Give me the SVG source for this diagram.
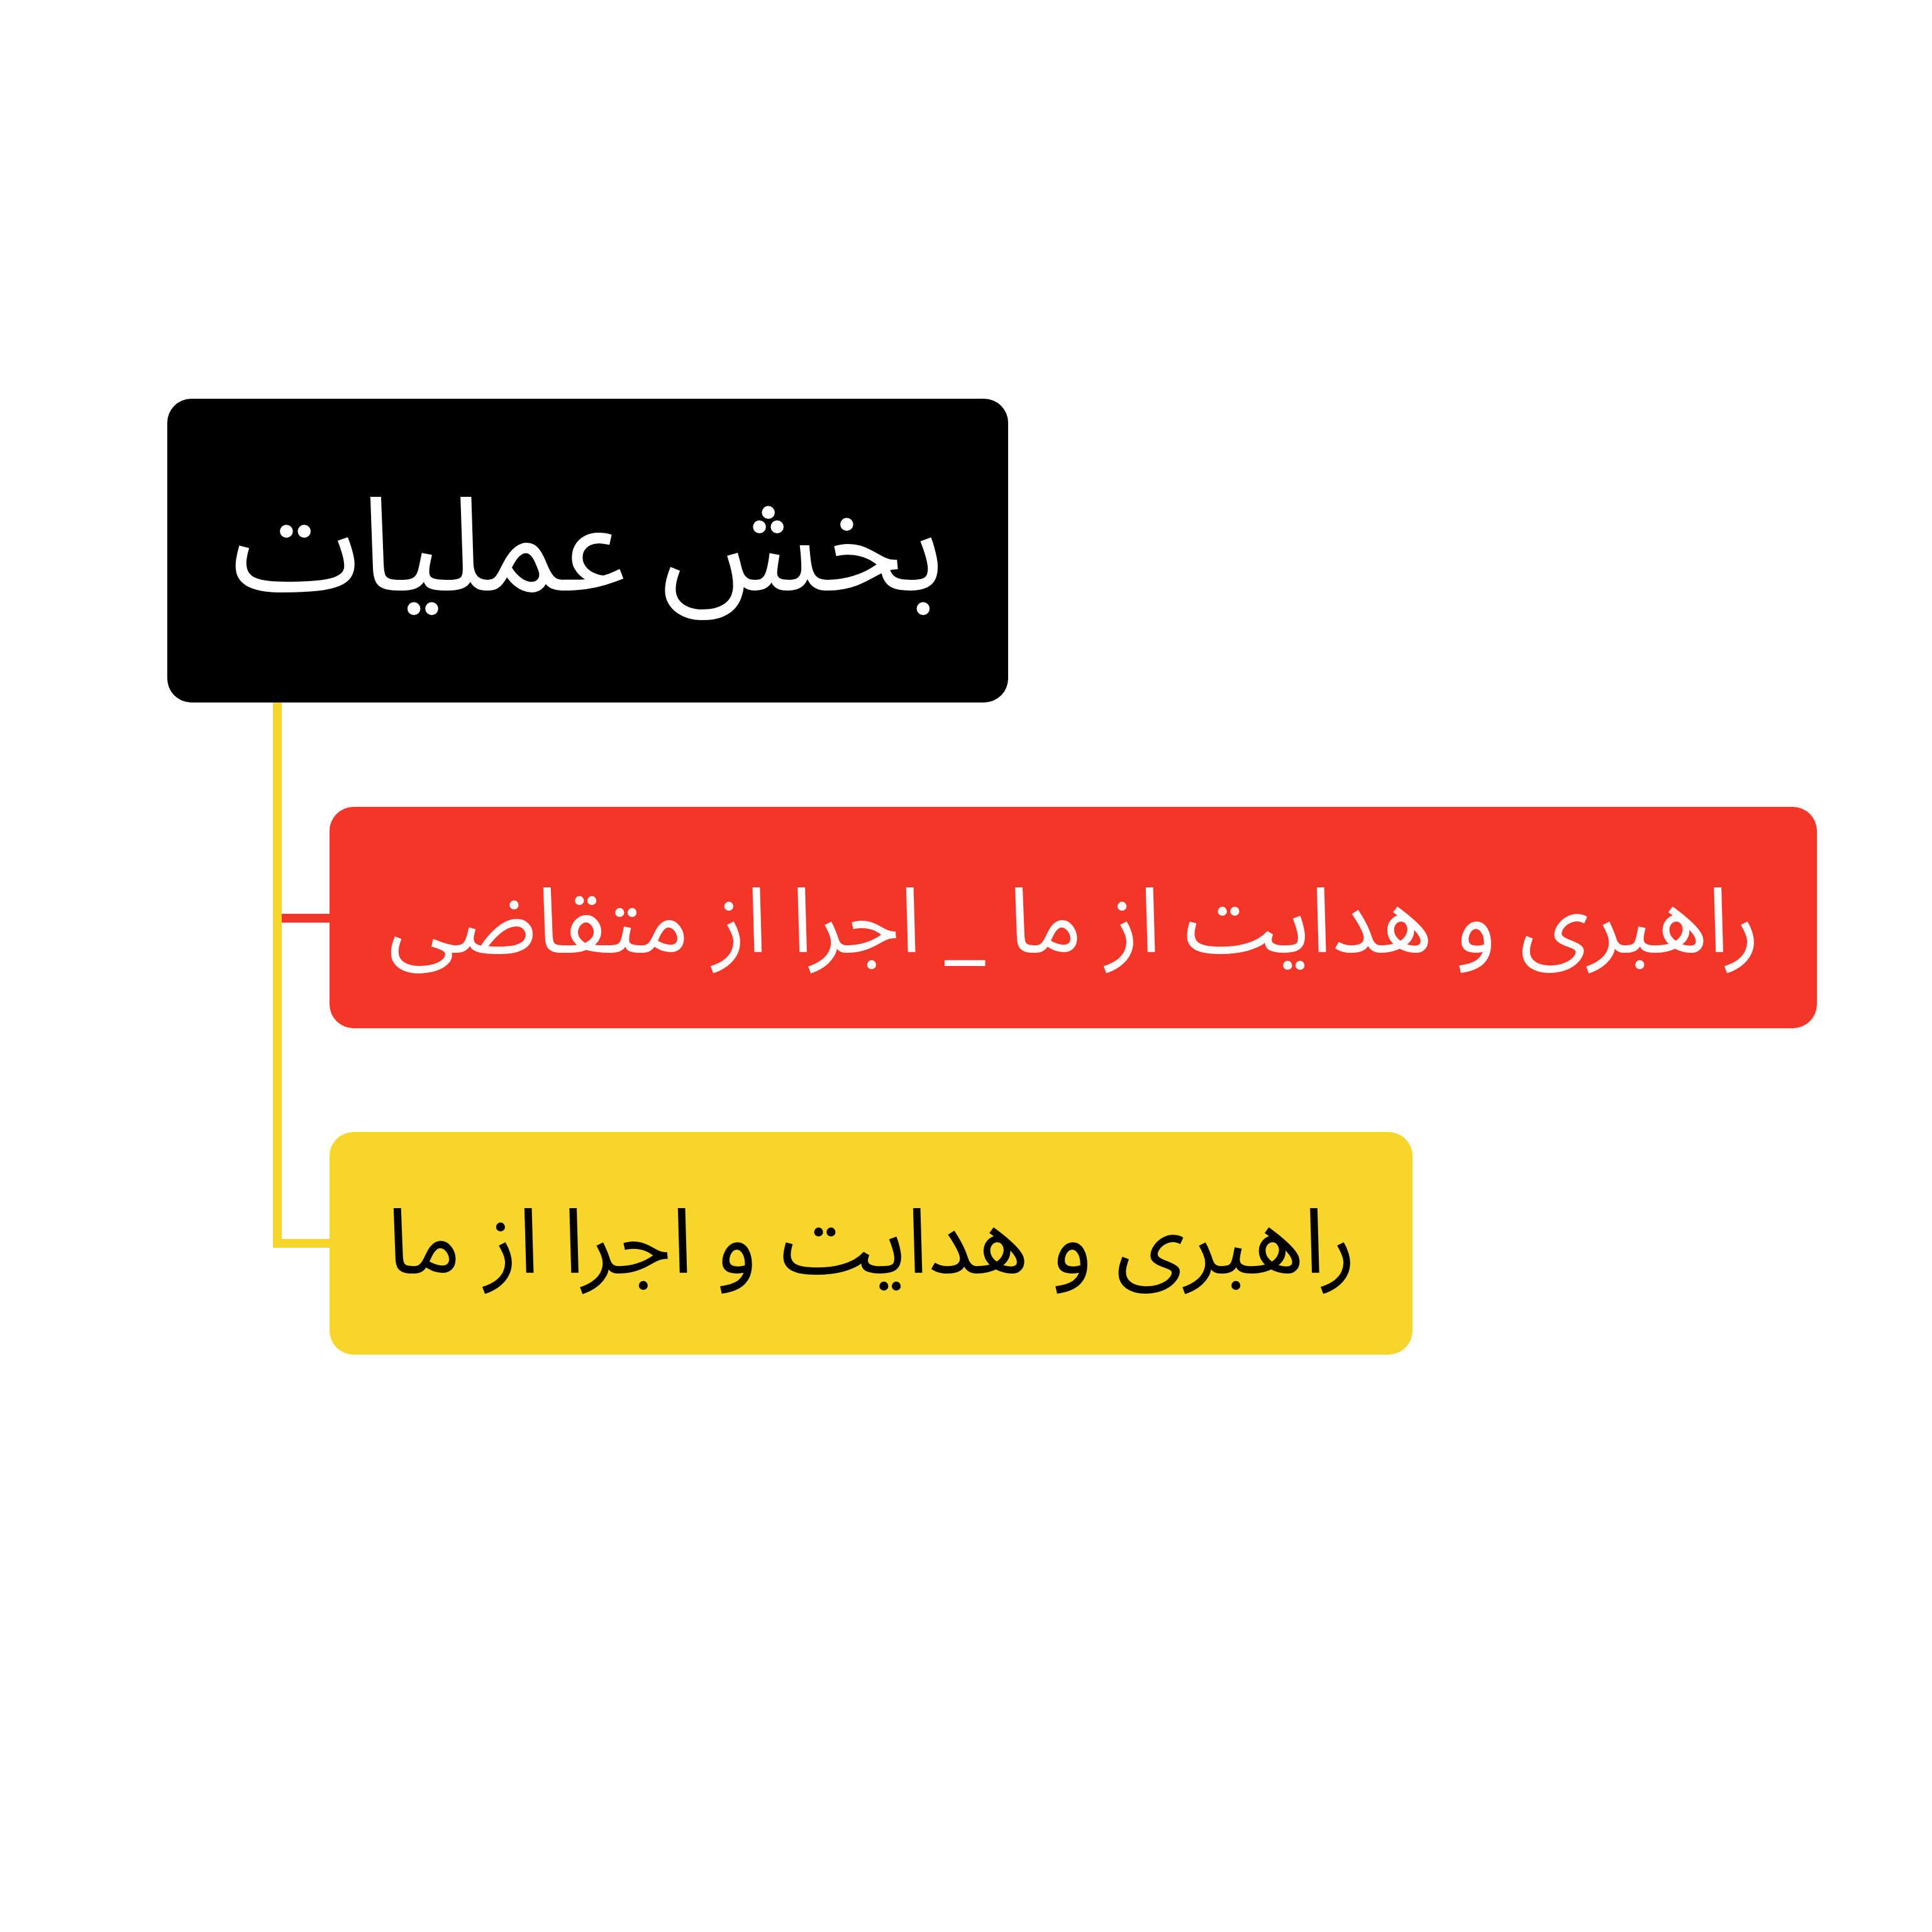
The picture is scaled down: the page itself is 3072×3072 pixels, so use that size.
<svg xmlns="http://www.w3.org/2000/svg" width="3072" height="3072" viewBox="0 0 3072 3072">
<style>
.t{font-family:"Noto Sans Arabic","DejaVu Sans","Noto Sans",sans-serif;text-anchor:middle;direction:rtl}
.conn{fill:none;stroke-width:14}
</style>
<rect width="3072" height="3072" fill="#ffffff"/>
<g id="connectors">
<path class="conn" d="M441 1117 V1977 H524" stroke="#F8D52A"/>
<path class="conn" d="M448 1460 H524" stroke="#F33628"/>
</g>
<g id="root">
<rect x="266" y="634" width="1337" height="483" rx="38" fill="#000000"/>
<text class="t" x="935" y="938" font-size="207" fill="#ffffff">بخش عملیات</text>
</g>
<g id="node-red">
<rect x="524" y="1283" width="2365" height="352" rx="38" fill="#F33628"/>
<text class="t" x="1708" y="1514" font-size="144" fill="#ffffff">راهبری و هدایت از ما _ اجرا از متقاضی</text>
</g>
<g id="node-yellow">
<rect x="524" y="1800" width="1722" height="354" rx="38" fill="#F8D52A"/>
<text class="t" x="1386" y="2024" font-size="144" fill="#000000">راهبری و هدایت و اجرا از ما</text>
</g>
</svg>
